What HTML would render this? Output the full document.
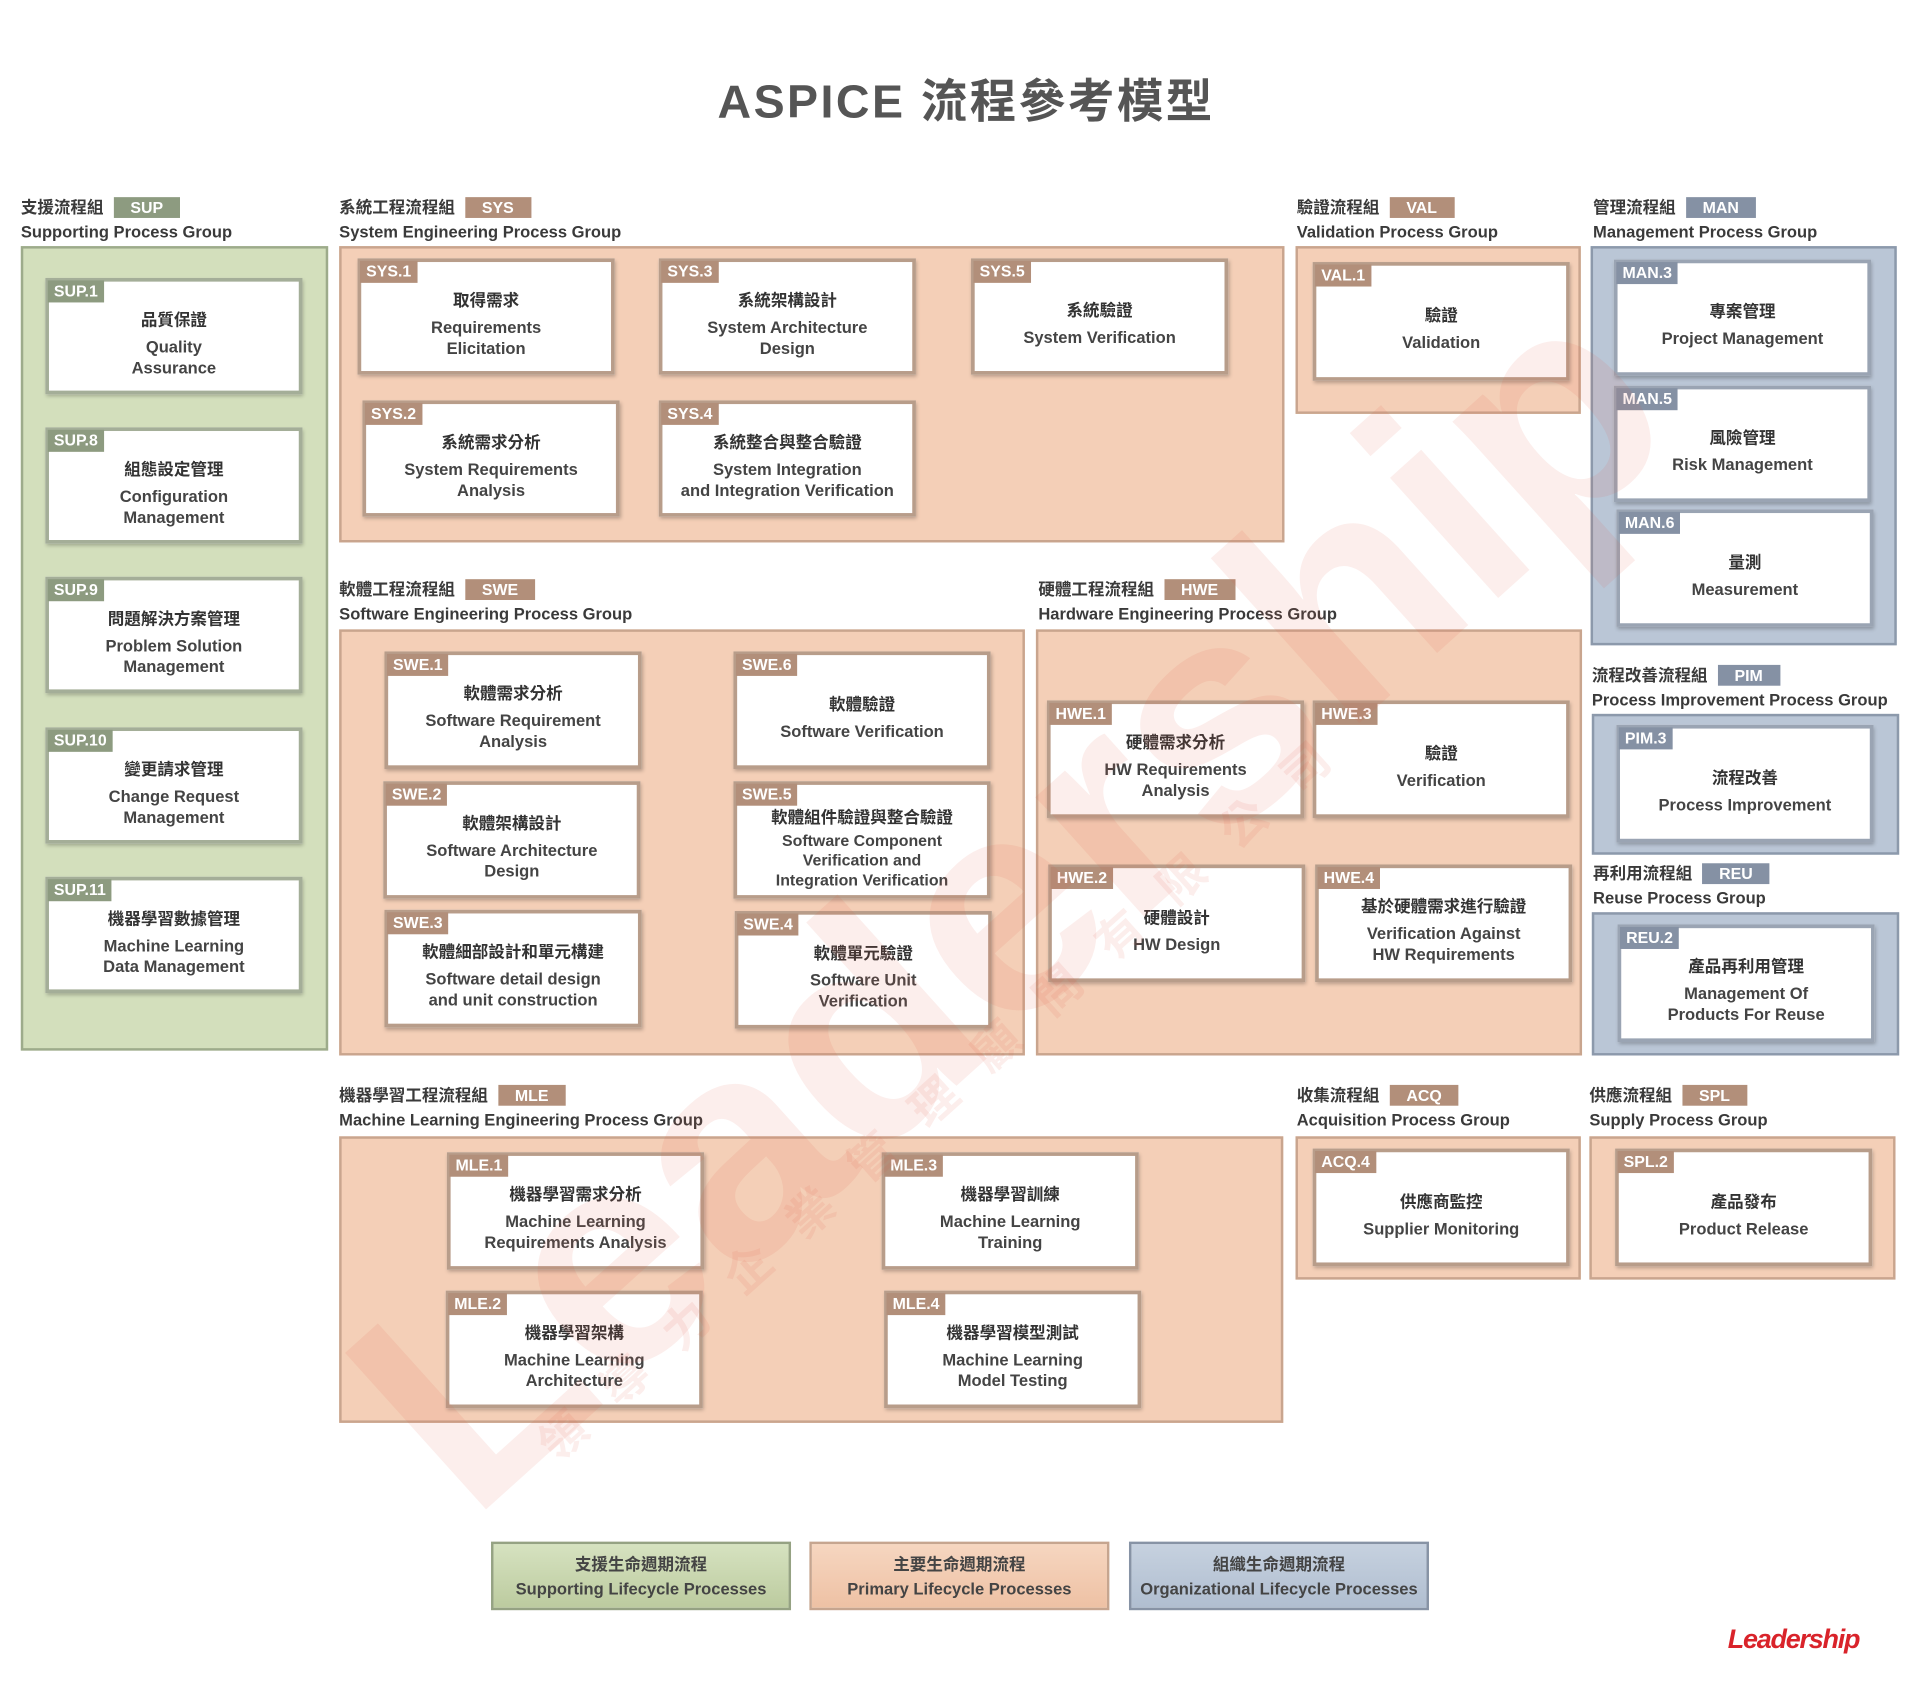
<!DOCTYPE html>
<html><head><meta charset="utf-8">
<style>
html,body{margin:0;padding:0;background:#fff;}
body{width:1920px;height:1700px;overflow:hidden;position:relative;}
#w{position:absolute;left:0;top:0;width:1568px;height:1388px;transform:scale(1.22449);transform-origin:0 0;font-family:"Liberation Sans","Noto Sans CJK TC",sans-serif;color:#3a3a3a;}
.title{position:absolute;left:0;width:1578px;top:52px;text-align:center;font-size:38px;font-weight:bold;color:#555;letter-spacing:2px;font-family:"Liberation Sans","Noto Sans CJK TC",sans-serif;}
.lbl{position:absolute;font-size:13.5px;line-height:20px;color:#3a3a3a;white-space:nowrap;font-weight:bold;}
.lbl .t{display:inline-block;color:#fff;font-weight:bold;font-size:13px;padding:0 14px;line-height:17px;margin-left:8px;}
.g{position:absolute;box-sizing:border-box;border:2px solid;}
.gs{background:#d3dfbc;border-color:#9dab8b;}
.gp{background:#f4cfb7;border-color:#c9a58e;}
.gb{background:#bac6d6;border-color:#8c99ab;}
.c{position:absolute;width:210px;height:95px;box-sizing:border-box;background:#fff;border:3px solid #a89a90;box-shadow:1px 2px 3px rgba(0,0,0,.25);display:flex;flex-direction:column;justify-content:center;align-items:center;text-align:center;font-size:13.5px;line-height:17px;padding-top:12px;color:#333;}
.c b{font-size:13.5px;display:block;margin-bottom:5px;}
.c i{font-style:normal;font-weight:bold;color:#444;}
.tg{position:absolute;left:-1px;top:-1px;color:#fff;font-weight:bold;font-size:13px;line-height:18px;padding:0 5px;}
.cs{border-color:#a4ae98;} .cs .tg,.ts{background:#8d9b80;}
.cp{border-color:#b89d8a;} .cp .tg,.tp{background:#b28f7a;}
.cb{border-color:#9aa4b3;} .cb .tg,.tb{background:#8591a4;}
.leg{position:absolute;top:1259px;height:56px;width:245px;box-sizing:border-box;border:2px solid;text-align:center;font-size:13.5px;line-height:20px;padding-top:7px;font-weight:bold;color:#444;}
.wm{position:absolute;pointer-events:none;white-space:nowrap;font-weight:bold;color:rgba(230,90,70,0.10);}
</style></head><body><div id="w">
<div class="title">ASPICE 流程參考模型</div>

<div class="lbl" style="left:17px;top:160px">支援流程組<span class="t ts">SUP</span><br>Supporting Process Group</div>
<div class="g gs" style="left:17px;top:201px;width:251px;height:657px"></div>
<div class="c cs" style="left:37px;top:227px"><span class="tg">SUP.1</span><b>品質保證</b><i>Quality<br>Assurance</i></div>
<div class="c cs" style="left:37px;top:349px"><span class="tg">SUP.8</span><b>組態設定管理</b><i>Configuration<br>Management</i></div>
<div class="c cs" style="left:37px;top:471px"><span class="tg">SUP.9</span><b>問題解決方案管理</b><i>Problem Solution<br>Management</i></div>
<div class="c cs" style="left:37px;top:594px"><span class="tg">SUP.10</span><b>變更請求管理</b><i>Change Request<br>Management</i></div>
<div class="c cs" style="left:37px;top:716px"><span class="tg">SUP.11</span><b>機器學習數據管理</b><i>Machine Learning<br>Data Management</i></div>

<div class="lbl" style="left:277px;top:160px">系統工程流程組<span class="t tp">SYS</span><br>System Engineering Process Group</div>
<div class="g gp" style="left:277px;top:201px;width:772px;height:242px"></div>
<div class="c cp" style="left:292px;top:211px"><span class="tg">SYS.1</span><b>取得需求</b><i>Requirements<br>Elicitation</i></div>
<div class="c cp" style="left:538px;top:211px"><span class="tg">SYS.3</span><b>系統架構設計</b><i>System Architecture<br>Design</i></div>
<div class="c cp" style="left:793px;top:211px"><span class="tg">SYS.5</span><b>系統驗證</b><i>System Verification</i></div>
<div class="c cp" style="left:296px;top:327px"><span class="tg">SYS.2</span><b>系統需求分析</b><i>System Requirements<br>Analysis</i></div>
<div class="c cp" style="left:538px;top:327px"><span class="tg">SYS.4</span><b>系統整合與整合驗證</b><i>System Integration<br>and Integration Verification</i></div>

<div class="lbl" style="left:1059px;top:160px">驗證流程組<span class="t tp">VAL</span><br>Validation Process Group</div>
<div class="g gp" style="left:1058px;top:201px;width:233px;height:137px"></div>
<div class="c cp" style="left:1072px;top:214px;height:97px"><span class="tg">VAL.1</span><b>驗證</b><i>Validation</i></div>

<div class="lbl" style="left:1301px;top:160px">管理流程組<span class="t tb">MAN</span><br>Management Process Group</div>
<div class="g gb" style="left:1299px;top:201px;width:250px;height:326px"></div>
<div class="c cb" style="left:1318px;top:212px"><span class="tg">MAN.3</span><b>專案管理</b><i>Project Management</i></div>
<div class="c cb" style="left:1318px;top:315px"><span class="tg">MAN.5</span><b>風險管理</b><i>Risk Management</i></div>
<div class="c cb" style="left:1320px;top:416px;height:96px"><span class="tg">MAN.6</span><b>量測</b><i>Measurement</i></div>

<div class="lbl" style="left:1300px;top:542px">流程改善流程組<span class="t tb">PIM</span><br>Process Improvement Process Group</div>
<div class="g gb" style="left:1300px;top:583px;width:251px;height:115px"></div>
<div class="c cb" style="left:1320px;top:592px;height:96px"><span class="tg">PIM.3</span><b>流程改善</b><i>Process Improvement</i></div>

<div class="lbl" style="left:1301px;top:704px">再利用流程組<span class="t tb">REU</span><br>Reuse Process Group</div>
<div class="g gb" style="left:1300px;top:745px;width:251px;height:117px"></div>
<div class="c cb" style="left:1321px;top:755px;height:96px"><span class="tg">REU.2</span><b>產品再利用管理</b><i>Management Of<br>Products For Reuse</i></div>

<div class="lbl" style="left:277px;top:472px">軟體工程流程組<span class="t tp">SWE</span><br>Software Engineering Process Group</div>
<div class="g gp" style="left:277px;top:514px;width:560px;height:348px"></div>
<div class="c cp" style="left:314px;top:532px;height:96px"><span class="tg">SWE.1</span><b>軟體需求分析</b><i>Software Requirement<br>Analysis</i></div>
<div class="c cp" style="left:599px;top:532px;height:96px"><span class="tg">SWE.6</span><b>軟體驗證</b><i>Software Verification</i></div>
<div class="c cp" style="left:313px;top:638px;height:96px"><span class="tg">SWE.2</span><b>軟體架構設計</b><i>Software Architecture<br>Design</i></div>
<div class="c cp" style="left:599px;top:638px;height:96px;padding-top:14px"><span class="tg">SWE.5</span><b style="margin-bottom:3px">軟體組件驗證與整合驗證</b><i style="font-size:13px;line-height:16px">Software Component<br>Verification and<br>Integration Verification</i></div>
<div class="c cp" style="left:314px;top:743px;height:96px"><span class="tg">SWE.3</span><b>軟體細部設計和單元構建</b><i>Software detail design<br>and unit construction</i></div>
<div class="c cp" style="left:600px;top:744px;height:96px"><span class="tg">SWE.4</span><b>軟體單元驗證</b><i>Software Unit<br>Verification</i></div>

<div class="lbl" style="left:848px;top:472px">硬體工程流程組<span class="t tp">HWE</span><br>Hardware Engineering Process Group</div>
<div class="g gp" style="left:846px;top:514px;width:446px;height:348px"></div>
<div class="c cp" style="left:855px;top:572px;height:96px"><span class="tg">HWE.1</span><b>硬體需求分析</b><i>HW Requirements<br>Analysis</i></div>
<div class="c cp" style="left:1072px;top:572px;height:96px"><span class="tg">HWE.3</span><b>驗證</b><i>Verification</i></div>
<div class="c cp" style="left:856px;top:706px;height:96px"><span class="tg">HWE.2</span><b>硬體設計</b><i>HW Design</i></div>
<div class="c cp" style="left:1074px;top:706px;height:96px"><span class="tg">HWE.4</span><b>基於硬體需求進行驗證</b><i>Verification Against<br>HW Requirements</i></div>

<div class="lbl" style="left:277px;top:885px">機器學習工程流程組<span class="t tp">MLE</span><br>Machine Learning Engineering Process Group</div>
<div class="g gp" style="left:277px;top:928px;width:771px;height:234px"></div>
<div class="c cp" style="left:365px;top:941px;height:96px"><span class="tg">MLE.1</span><b>機器學習需求分析</b><i>Machine Learning<br>Requirements Analysis</i></div>
<div class="c cp" style="left:720px;top:941px;height:96px"><span class="tg">MLE.3</span><b>機器學習訓練</b><i>Machine Learning<br>Training</i></div>
<div class="c cp" style="left:364px;top:1054px;height:96px"><span class="tg">MLE.2</span><b>機器學習架構</b><i>Machine Learning<br>Architecture</i></div>
<div class="c cp" style="left:722px;top:1054px;height:96px"><span class="tg">MLE.4</span><b>機器學習模型測試</b><i>Machine Learning<br>Model Testing</i></div>

<div class="lbl" style="left:1059px;top:885px">收集流程組<span class="t tp">ACQ</span><br>Acquisition Process Group</div>
<div class="g gp" style="left:1058px;top:928px;width:233px;height:117px"></div>
<div class="c cp" style="left:1072px;top:938px;height:96px"><span class="tg">ACQ.4</span><b>供應商監控</b><i>Supplier Monitoring</i></div>

<div class="lbl" style="left:1298px;top:885px">供應流程組<span class="t tp">SPL</span><br>Supply Process Group</div>
<div class="g gp" style="left:1298px;top:928px;width:250px;height:117px"></div>
<div class="c cp" style="left:1319px;top:938px;height:96px"><span class="tg">SPL.2</span><b>產品發布</b><i>Product Release</i></div>

<div class="leg" style="left:401px;background:linear-gradient(#d6e2c0,#bccb9f);border-color:#95a283">支援生命週期流程<br>Supporting Lifecycle Processes</div>
<div class="leg" style="left:661px;background:linear-gradient(#f6d6c0,#eec1a4);border-color:#c6a58f">主要生命週期流程<br>Primary Lifecycle Processes</div>
<div class="leg" style="left:922px;background:linear-gradient(#c6d1df,#b0bed0);border-color:#8793a5">組織生命週期流程<br>Organizational Lifecycle Processes</div>

<div style="position:absolute;left:1411px;top:1326px;font-size:22px;font-weight:bold;font-style:italic;color:#d9232a;letter-spacing:-1px;">Leadership</div>

<div class="wm" style="left:160px;top:620px;font-size:250px;transform:rotate(-42deg);transform-origin:50% 50%;width:1300px;line-height:250px;">Leadership</div>
<div class="wm" style="left:330px;top:860px;font-size:38px;letter-spacing:30px;transform:rotate(-42deg);color:rgba(230,90,70,0.10);">領導力企業管理顧問有限公司</div>
</div></body></html>
